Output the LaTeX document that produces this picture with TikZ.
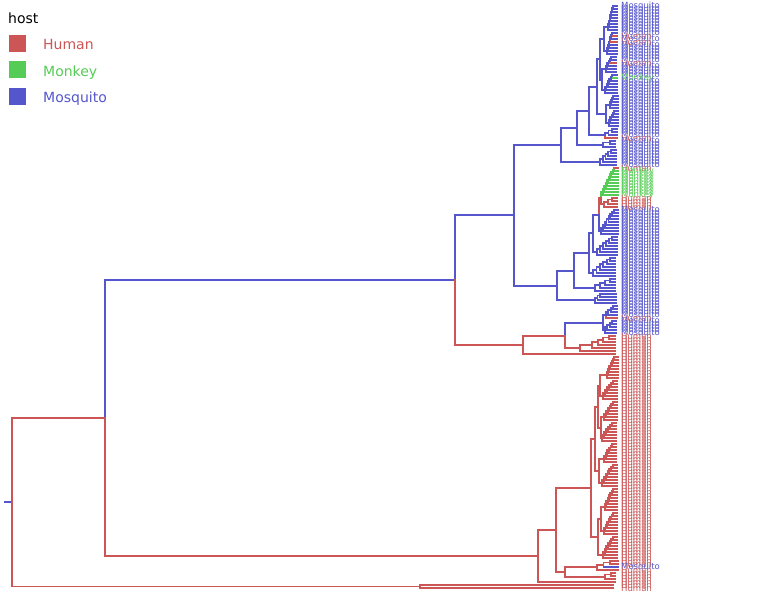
\documentclass[tikz,border=0pt]{standalone}
\usepackage{fontspec}
\usepackage{tikz}
\setmainfont{DejaVu Sans}
\definecolor{colH}{RGB}{204,85,85}
\definecolor{colK}{RGB}{85,204,85}
\definecolor{colM}{RGB}{85,85,204}
\newcommand{\labH}{Human}
\newcommand{\labK}{Monkey}
\newcommand{\labM}{Mosquito}
\tikzset{
  limb/.style={line width=1.8pt, line cap=rect},
  human/.style={limb, draw=colH},
  monkey/.style={limb, draw=colK},
  mosquito/.style={limb, draw=colM},
  leaflab/.style={anchor=west, inner sep=0pt, font=\fontsize{8.5}{8.5}\selectfont},
  keybox/.style={minimum size=17pt, inner sep=0pt},
  keylab/.style={anchor=base west, inner sep=0pt, font=\fontsize{14}{14}\selectfont}
}
\newcommand{\clade}[7]{%
  \foreach \h [count=\k] in {#7} {\xdef\claden{\k}}
  \foreach \h [count=\k from 0] in {#7} {
    \pgfmathsetmacro{\ly}{6+3*(#6+\k)}
    \coordinate (#1-l\k) at (#5,\ly);
    \node[leaflab, text=col\h] (#1-t\k) at (621,\ly) {\csname lab\h\endcsname};
    \ifnum\k=0 \xdef\hfirst{\h}\fi
    \ifnum\k>0
      \pgfmathsetmacro{\nx}{#3+(\claden-1-\k)*(#4-#3)/max(\claden-2,1)}
      \pgfmathsetmacro{\ny}{\ly-3+1.5/pow(2,min(\k-1,12))}
      \pgfmathtruncatemacro{\km}{\k-1}
      \coordinate (#1-\k) at (\nx,\ny);
      \draw[limb, draw=col\h] (#1-\k) |- (#1-l\k);
      \ifnum\k=1
        \draw[limb, draw=col\hfirst] (#1-1) |- (#1-l0);
      \else
        \draw[limb, draw=col#2] (#1-\k) |- (#1-\km);
      \fi
    \fi
  }
  \pgfmathtruncatemacro{\claderoot}{\claden-1}
  \coordinate (#1) at (#1-\claderoot);
}
\newcommand{\leaftip}[3]{%
  \pgfmathsetmacro{\ly}{6+3*#2}
  \coordinate (#1) at (615,\ly);
  \node[leaflab, text=col#3] (#1-t) at (621,\ly) {\csname lab#3\endcsname};
}
\begin{document}
\begin{tikzpicture}[x=1pt,y=-1pt]
\useasboundingbox (0,0) rectangle (783,605);
\node[keylab] (hosttitle) at (8,23) {host};
\node[keybox, fill=colH] (keyH) at (17,43.5) {};
\node[keybox, fill=colK] (keyK) at (17,69.5) {};
\node[keybox, fill=colM] (keyM) at (17,96) {};
\node[keylab, text=colH] (keyHlab) at (43,49.5) {Human};
\node[keylab, text=colK] (keyKlab) at (43,76) {Monkey};
\node[keylab, text=colM] (keyMlab) at (43,102) {Mosquito};

\clade{L1}{M}{608}{613}{617}{0}{M,M,M,M,M,M,M,M,M}
\clade{L2}{M}{607}{612}{617}{9}{M,H,M,H,M,M,M,M}
\clade{M1}{M}{606}{611}{616}{17}{M,M,H,M,M,M}
\clade{M2}{M}{605}{612}{617}{23}{M,K,M,M,M,M,M}
\clade{N1}{M}{610}{613}{618}{30}{M,M,M,M,M}
\clade{N2}{M}{609}{614}{618}{35}{M,M,M,M,M,M}
\clade{O}{M}{605}{612}{617}{41}{M,M,M,H}
\clade{P}{M}{603}{610}{615}{45}{M,M,M}
\clade{Q}{M}{600}{611}{616}{48}{M,M,M,M,M,M}
\clade{Gk}{K}{603}{614}{618}{54}{H,K,K,K,K,K,K,K,K,K}
\clade{Gh}{H}{604}{612}{617}{64}{H,H,H,H}
\clade{S1}{M}{601}{614}{618}{68}{M,M,M,M,M,M,M,M,M}
\clade{S2}{M}{597}{612}{617}{77}{M,M,M,M,M,M,M}
\clade{S3}{M}{593}{610}{615}{84}{M,M,M,M,M,M,M}
\clade{S4}{M}{595}{610}{615}{91}{M,M,M,M,M}
\clade{S5}{M}{595}{600}{616}{96}{M,M,M,M}
\clade{Eb1}{M}{606}{613}{617}{100}{M,M,M,M,H}
\clade{Eb2}{M}{605}{612}{616}{105}{M,M,M,M,M}
\clade{Er}{H}{592}{609}{615}{110}{H,H,H,H,H}
\leaftip{Er2}{115}{H}
\leaftip{Eleaf}{116}{H}
\clade{Da1}{H}{607}{614}{618}{117}{H,H,H,H,H,H,H,H}
\clade{Da2}{H}{603}{613}{617}{125}{H,H,H,H,H,H,H}
\clade{Da3}{H}{604}{613}{617}{132}{H,H,H,H,H,H,H}
\clade{Da4}{H}{602}{612}{616}{139}{H,H,H,H,H,H,H}
\clade{Db1}{H}{604}{612}{616}{146}{H,H,H,H,H,H,H}
\clade{Db2}{H}{602}{613}{617}{153}{H,H,H,H,H,H,H,H}
\clade{Dc1}{H}{605}{613}{617}{161}{H,H,H,H,H,H,H,H}
\clade{Dc2}{H}{604}{613}{617}{169}{H,H,H,H,H,H,H,H}
\clade{Dc3}{H}{603}{613}{617}{177}{H,H,H,H,H,H,H,H}
\clade{Ca}{H}{597}{610}{618}{185}{H,H,M,H}
\clade{Cb}{H}{605}{611}{615}{189}{H,H,H}
\leaftip{Cleaf}{192}{H}
\clade{R2}{H}{420}{420}{613}{193}{H,H}

\coordinate (NL) at (604,39);
\coordinate (NM) at (602,80);
\coordinate (N600) at (600,59);
\coordinate (NN) at (606,114);
\coordinate (N597) at (597,87);
\coordinate (N589) at (589,111);
\coordinate (N577) at (577,128);
\coordinate (N561) at (561,145);
\coordinate (NG) at (601,198);
\coordinate (N599) at (599,215);
\coordinate (N593) at (593,233);
\coordinate (N589b) at (589,253);
\coordinate (N574) at (574,271);
\coordinate (N557) at (557,286);
\coordinate (A) at (514,215);
\coordinate (NEb) at (603,323);
\coordinate (NEr) at (580,348);
\coordinate (E1) at (565,336);
\coordinate (E) at (523,345);
\coordinate (B) at (455,280);
\coordinate (Dab1) at (600,386);
\coordinate (Dab2) at (601,428);
\coordinate (D1a) at (598,407);
\coordinate (D1b) at (599,471);
\coordinate (D1) at (595,439);
\coordinate (Dc12) at (601,519);
\coordinate (D2) at (598,537);
\coordinate (D) at (591,488);
\coordinate (C1L) at (565,572);
\coordinate (C1) at (556,530);
\coordinate (C) at (538,556);
\coordinate (R1) at (105,418);
\coordinate (root) at (12,502);
\coordinate (stub) at (5,502);

\draw[mosquito] (stub) -- (root);
\draw[human] (root) |- (R1);
\draw[human] (root) |- (R2);
\draw[mosquito] (R1) |- (B);
\draw[human] (R1) |- (C);
\draw[mosquito] (B) |- (A);
\draw[human] (B) |- (E);
\draw[mosquito] (A) |- (N561);
\draw[mosquito] (A) |- (N557);
\draw[mosquito] (N561) |- (N577);
\draw[mosquito] (N561) |- (Q);
\draw[mosquito] (N577) |- (N589);
\draw[mosquito] (N577) |- (P);
\draw[mosquito] (N589) |- (N597);
\draw[mosquito] (N589) |- (O);
\draw[mosquito] (N597) |- (N600);
\draw[mosquito] (N597) |- (NN);
\draw[mosquito] (N600) |- (NL);
\draw[mosquito] (N600) |- (NM);
\draw[mosquito] (NL) |- (L1);
\draw[mosquito] (NL) |- (L2);
\draw[mosquito] (NM) |- (M1);
\draw[mosquito] (NM) |- (M2);
\draw[mosquito] (NN) |- (N1);
\draw[mosquito] (NN) |- (N2);
\draw[mosquito] (N557) |- (N574);
\draw[mosquito] (N557) |- (S5);
\draw[mosquito] (N574) |- (N589b);
\draw[mosquito] (N574) |- (S4);
\draw[mosquito] (N589b) |- (N593);
\draw[mosquito] (N589b) |- (S3);
\draw[mosquito] (N593) |- (N599);
\draw[mosquito] (N593) |- (S2);
\draw[human] (N599) |- (NG);
\draw[mosquito] (N599) |- (S1);
\draw[monkey] (NG) |- (Gk);
\draw[human] (NG) |- (Gh);
\draw[human] (E) |- (E1);
\draw[human] (E) |- (Eleaf);
\draw[mosquito] (E1) |- (NEb);
\draw[human] (E1) |- (NEr);
\draw[mosquito] (NEb) |- (Eb1);
\draw[mosquito] (NEb) |- (Eb2);
\draw[human] (NEr) |- (Er);
\draw[human] (NEr) |- (Er2);
\draw[human] (C) |- (C1);
\draw[human] (C) |- (Cleaf);
\draw[human] (C1) |- (D);
\draw[human] (C1) |- (C1L);
\draw[human] (C1L) |- (Ca);
\draw[human] (C1L) |- (Cb);
\draw[human] (D) |- (D1);
\draw[human] (D) |- (D2);
\draw[human] (D1) |- (D1a);
\draw[human] (D1) |- (D1b);
\draw[human] (D1a) |- (Dab1);
\draw[human] (D1a) |- (Dab2);
\draw[human] (Dab1) |- (Da1);
\draw[human] (Dab1) |- (Da2);
\draw[human] (Dab2) |- (Da3);
\draw[human] (Dab2) |- (Da4);
\draw[human] (D1b) |- (Db1);
\draw[human] (D1b) |- (Db2);
\draw[human] (D2) |- (Dc12);
\draw[human] (D2) |- (Dc3);
\draw[human] (Dc12) |- (Dc1);
\draw[human] (Dc12) |- (Dc2);
\end{tikzpicture}
\end{document}
